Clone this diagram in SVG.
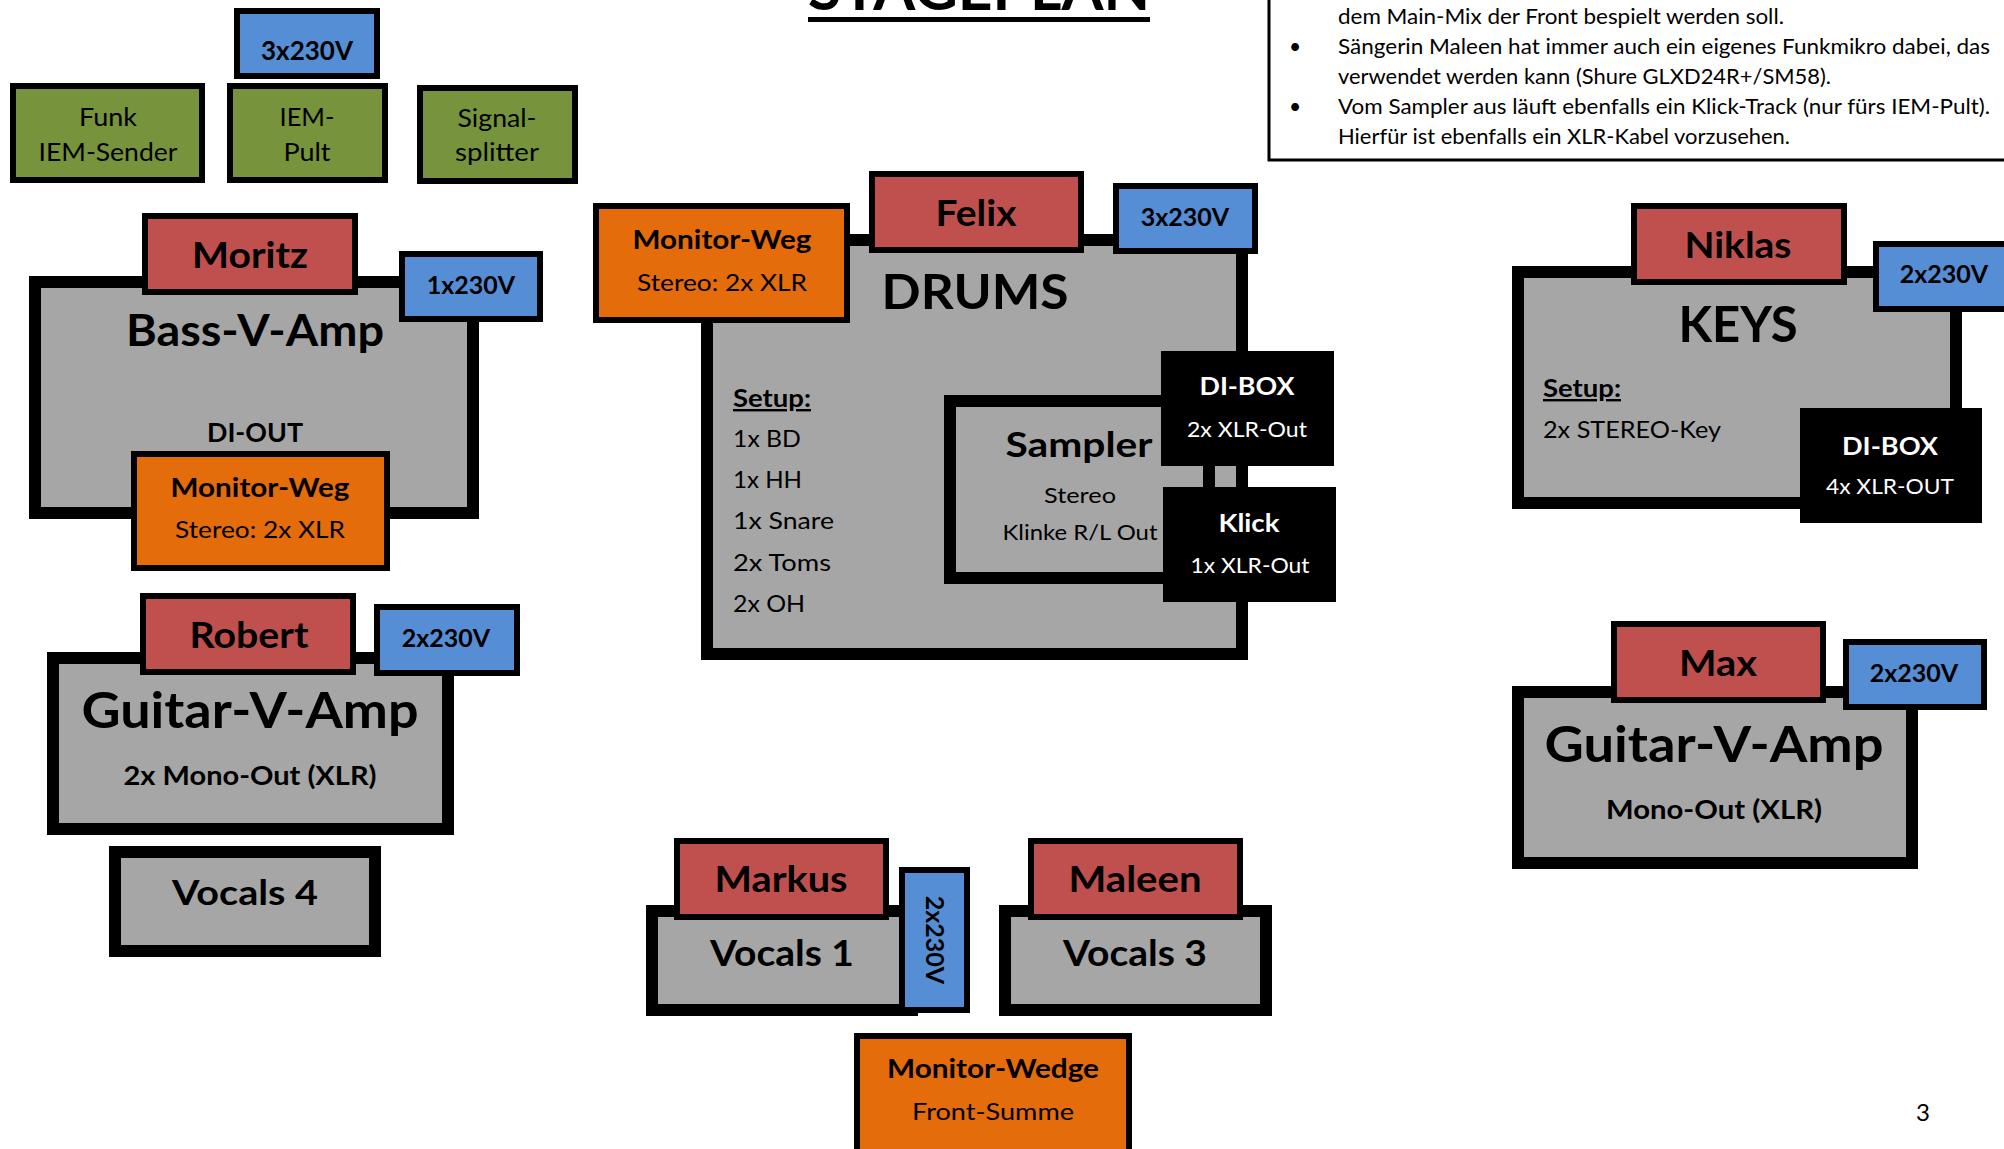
<svg xmlns="http://www.w3.org/2000/svg" width="2004" height="1149" viewBox="0 0 2004 1149">
<style>
text{font-family:Lato,"Liberation Sans",sans-serif;fill:#000}
.c{text-anchor:middle}
.b{font-weight:bold}
.w{fill:#fff}
.s{stroke:#000;stroke-width:6}
.t{stroke:#000;stroke-width:12}
.red{fill:#C0504D}
.blue{fill:#558ED5}
.green{fill:#77933C}
.org{fill:#E46C0A}
.gray{fill:#A6A6A6}
.blk{fill:#000}
.f25{font-size:25px}
.f24{font-size:24px}
.f22{font-size:22px}
.f26{font-size:26px}
.f36{font-size:36px}
.f48{font-size:48px}
.note{font-size:21px}
</style>
<rect x="0" y="0" width="2004" height="1149" fill="#fff"/>

<g id="title">
<text x="808" y="10" class="b" font-size="62" textLength="342" lengthAdjust="spacingAndGlyphs">STAGEPLAN</text>
<rect x="808" y="17" width="342" height="5" fill="#000"/>
</g>

<g id="notes">
<rect x="1269" y="-10" width="760" height="170" fill="none" stroke="#000" stroke-width="3"/>
<text x="1338" y="24" class="note" textLength="446" lengthAdjust="spacingAndGlyphs">dem Main-Mix der Front bespielt werden soll.</text>
<text x="1295" y="54" class="note c">•</text>
<text x="1338" y="54" class="note" textLength="652" lengthAdjust="spacingAndGlyphs">Sängerin Maleen hat immer auch ein eigenes Funkmikro dabei, das</text>
<text x="1338" y="84" class="note" textLength="493" lengthAdjust="spacingAndGlyphs">verwendet werden kann (Shure GLXD24R+/SM58).</text>
<text x="1295" y="114" class="note c">•</text>
<text x="1338" y="114" class="note" textLength="652" lengthAdjust="spacingAndGlyphs">Vom Sampler aus läuft ebenfalls ein Klick-Track (nur fürs IEM-Pult).</text>
<text x="1338" y="144" class="note" textLength="452" lengthAdjust="spacingAndGlyphs">Hierfür ist ebenfalls ein XLR-Kabel vorzusehen.</text>
</g>

<g id="connectors"></g>

<!-- top equipment -->
<g id="funk-iem-sender">
<rect x="13" y="86" width="189" height="94" class="green s"/>
<text x="108" y="126" class="c f25" textLength="58" lengthAdjust="spacingAndGlyphs">Funk</text>
<text x="108" y="161" class="c f25" textLength="139" lengthAdjust="spacingAndGlyphs">IEM-Sender</text>
</g>
<g id="iem-pult">
<rect x="230" y="86" width="155" height="94" class="green s"/>
<text x="307" y="126" class="c f25" textLength="55" lengthAdjust="spacingAndGlyphs">IEM-</text>
<text x="307" y="161" class="c f25" textLength="47" lengthAdjust="spacingAndGlyphs">Pult</text>
</g>
<g id="iem-power">
<rect x="237" y="11" width="140" height="65" class="blue s"/>
<text x="307" y="60" class="c b f26">3x230V</text>
</g>
<g id="signalsplitter">
<rect x="420" y="88" width="155" height="93" class="green s"/>
<text x="497" y="127" class="c f25" textLength="79" lengthAdjust="spacingAndGlyphs">Signal-</text>
<text x="497" y="161" class="c f25" textLength="84" lengthAdjust="spacingAndGlyphs">splitter</text>
</g>

<!-- Bass -->
<g id="bass-amp">
<rect x="35" y="282" width="438" height="231" class="gray t"/>
<text x="255" y="346" class="c b" font-size="44" textLength="258" lengthAdjust="spacingAndGlyphs">Bass-V-Amp</text>
<text x="255" y="442" class="c b f26" textLength="96" lengthAdjust="spacingAndGlyphs">DI-OUT</text>
</g>
<g id="moritz">
<rect x="145" y="216" width="210" height="76" class="red s"/>
<text x="250" y="268" class="c b f36" textLength="116" lengthAdjust="spacingAndGlyphs">Moritz</text>
</g>
<g id="bass-power">
<rect x="402" y="254" width="138" height="65" class="blue s"/>
<text x="471" y="294" class="c b f25">1x230V</text>
</g>
<g id="bass-monitor">
<rect x="134" y="454" width="253" height="114" class="org s"/>
<text x="260" y="497" class="c b f26" textLength="179" lengthAdjust="spacingAndGlyphs">Monitor-Weg</text>
<text x="260" y="538" class="c f24" textLength="170" lengthAdjust="spacingAndGlyphs">Stereo: 2x XLR</text>
</g>

<!-- Drums -->
<g id="drums">
<rect x="707" y="240" width="535" height="414" class="gray t"/>
<text x="975" y="309" class="c b f48" textLength="187" lengthAdjust="spacingAndGlyphs">DRUMS</text>
<text x="733" y="407" class="b f24" text-decoration="underline" textLength="78" lengthAdjust="spacingAndGlyphs">Setup:</text>
<text x="733" y="447" class="f24" textLength="68" lengthAdjust="spacingAndGlyphs">1x BD</text>
<text x="733" y="488" class="f24" textLength="69" lengthAdjust="spacingAndGlyphs">1x HH</text>
<text x="733" y="529" class="f24" textLength="101" lengthAdjust="spacingAndGlyphs">1x Snare</text>
<text x="733" y="571" class="f24" textLength="98" lengthAdjust="spacingAndGlyphs">2x Toms</text>
<text x="733" y="612" class="f24" textLength="72" lengthAdjust="spacingAndGlyphs">2x OH</text>
</g>
<g id="drums-monitor">
<rect x="596" y="206" width="251" height="114" class="org s"/>
<text x="722" y="249" class="c b f26" textLength="179" lengthAdjust="spacingAndGlyphs">Monitor-Weg</text>
<text x="722" y="291" class="c f24" textLength="170" lengthAdjust="spacingAndGlyphs">Stereo: 2x XLR</text>
</g>
<g id="felix">
<rect x="872" y="174" width="209" height="76" class="red s"/>
<text x="976" y="226" class="c b" font-size="37" textLength="81" lengthAdjust="spacingAndGlyphs">Felix</text>
</g>
<g id="drums-power">
<rect x="1116" y="186" width="139" height="65" class="blue s"/>
<text x="1185" y="226" class="c b f25">3x230V</text>
</g>
<g id="sampler">
<rect x="950" y="401" width="259" height="177" class="gray t"/>
<text x="1079" y="457" class="c b" font-size="35" textLength="147" lengthAdjust="spacingAndGlyphs">Sampler</text>
<text x="1080" y="503" class="c f22" textLength="72" lengthAdjust="spacingAndGlyphs">Stereo</text>
<text x="1080" y="540" class="c f22" textLength="155" lengthAdjust="spacingAndGlyphs">Klinke R/L Out</text>
</g>
<g id="drums-dibox">
<rect x="1161" y="351" width="173" height="115" class="blk"/>
<text x="1247" y="395" class="c b w f25" textLength="95" lengthAdjust="spacingAndGlyphs">DI-BOX</text>
<text x="1247" y="437" class="c w f22" textLength="120" lengthAdjust="spacingAndGlyphs">2x XLR-Out</text>
</g>
<g id="klick">
<rect x="1163" y="487" width="173" height="115" class="blk"/>
<text x="1249" y="532" class="c b w f25" textLength="61" lengthAdjust="spacingAndGlyphs">Klick</text>
<text x="1250" y="573" class="c w f22" textLength="119" lengthAdjust="spacingAndGlyphs">1x XLR-Out</text>
</g>

<!-- Keys -->
<g id="keys">
<rect x="1518" y="272" width="438" height="231" class="gray t"/>
<text x="1738" y="342" class="c b" font-size="49">KEYS</text>
<text x="1543" y="397" class="b f24" text-decoration="underline" textLength="78" lengthAdjust="spacingAndGlyphs">Setup:</text>
<text x="1543" y="438" class="f24" textLength="178" lengthAdjust="spacingAndGlyphs">2x STEREO-Key</text>
</g>
<g id="niklas">
<rect x="1634" y="206" width="210" height="76" class="red s"/>
<text x="1738" y="258" class="c b f36" textLength="107" lengthAdjust="spacingAndGlyphs">Niklas</text>
</g>
<g id="keys-power">
<rect x="1876" y="244" width="150" height="65" class="blue s"/>
<text x="1944" y="283" class="c b f25">2x230V</text>
</g>
<g id="keys-dibox">
<rect x="1800" y="408" width="182" height="115" class="blk"/>
<text x="1890" y="455" class="c b w f25" textLength="96" lengthAdjust="spacingAndGlyphs">DI-BOX</text>
<text x="1890" y="494" class="c w f22" textLength="128" lengthAdjust="spacingAndGlyphs">4x XLR-OUT</text>
</g>

<!-- Max -->
<g id="max-amp">
<rect x="1518" y="692" width="394" height="171" class="gray t"/>
<text x="1714" y="762" class="c b" font-size="49" textLength="339" lengthAdjust="spacingAndGlyphs">Guitar-V-Amp</text>
<text x="1714" y="819" class="c b" font-size="27" textLength="216" lengthAdjust="spacingAndGlyphs">Mono-Out (XLR)</text>
</g>
<g id="max">
<rect x="1614" y="624" width="209" height="76" class="red s"/>
<text x="1718" y="676" class="c b f36" textLength="78" lengthAdjust="spacingAndGlyphs">Max</text>
</g>
<g id="max-power">
<rect x="1846" y="642" width="138" height="65" class="blue s"/>
<text x="1914" y="682" class="c b f25">2x230V</text>
</g>

<!-- Robert -->
<g id="robert-amp">
<rect x="53" y="658" width="395" height="171" class="gray t"/>
<text x="250" y="728" class="c b" font-size="49" textLength="337" lengthAdjust="spacingAndGlyphs">Guitar-V-Amp</text>
<text x="250" y="785" class="c b" font-size="27" textLength="253" lengthAdjust="spacingAndGlyphs">2x Mono-Out (XLR)</text>
</g>
<g id="robert">
<rect x="143" y="596" width="210" height="76" class="red s"/>
<text x="249" y="648" class="c b f36" textLength="119" lengthAdjust="spacingAndGlyphs">Robert</text>
</g>
<g id="robert-power">
<rect x="377" y="607" width="140" height="66" class="blue s"/>
<text x="446" y="647" class="c b f25">2x230V</text>
</g>
<g id="vocals4">
<rect x="115" y="852" width="260" height="99" class="gray t"/>
<text x="245" y="905" class="c b" font-size="35" textLength="146" lengthAdjust="spacingAndGlyphs">Vocals 4</text>
</g>

<!-- Vocals -->
<g id="vocals1">
<rect x="652" y="911" width="260" height="99" class="gray t"/>
<text x="782" y="966" class="c b f36" textLength="144" lengthAdjust="spacingAndGlyphs">Vocals 1</text>
</g>
<g id="markus">
<rect x="677" y="841" width="209" height="76" class="red s"/>
<text x="781" y="892" class="c b f36" textLength="133" lengthAdjust="spacingAndGlyphs">Markus</text>
</g>
<g id="vocals1-power">
<rect x="902" y="870" width="65" height="140" class="blue s"/>
<text transform="translate(935,940) rotate(90)" x="0" y="9" class="c b f25">2x230V</text>
</g>
<g id="vocals3">
<rect x="1005" y="911" width="261" height="99" class="gray t"/>
<text x="1135" y="966" class="c b f36" textLength="144" lengthAdjust="spacingAndGlyphs">Vocals 3</text>
</g>
<g id="maleen">
<rect x="1031" y="841" width="209" height="76" class="red s"/>
<text x="1135" y="892" class="c b f36" textLength="133" lengthAdjust="spacingAndGlyphs">Maleen</text>
</g>
<g id="monitor-wedge">
<rect x="857" y="1036" width="272" height="120" class="org s"/>
<text x="993" y="1078" class="c b f26" textLength="212" lengthAdjust="spacingAndGlyphs">Monitor-Wedge</text>
<text x="993" y="1120" class="c f24" textLength="162" lengthAdjust="spacingAndGlyphs">Front-Summe</text>
</g>

<g id="page-number">
<text x="1923" y="1121" class="c f24">3</text>
</g>
</svg>
